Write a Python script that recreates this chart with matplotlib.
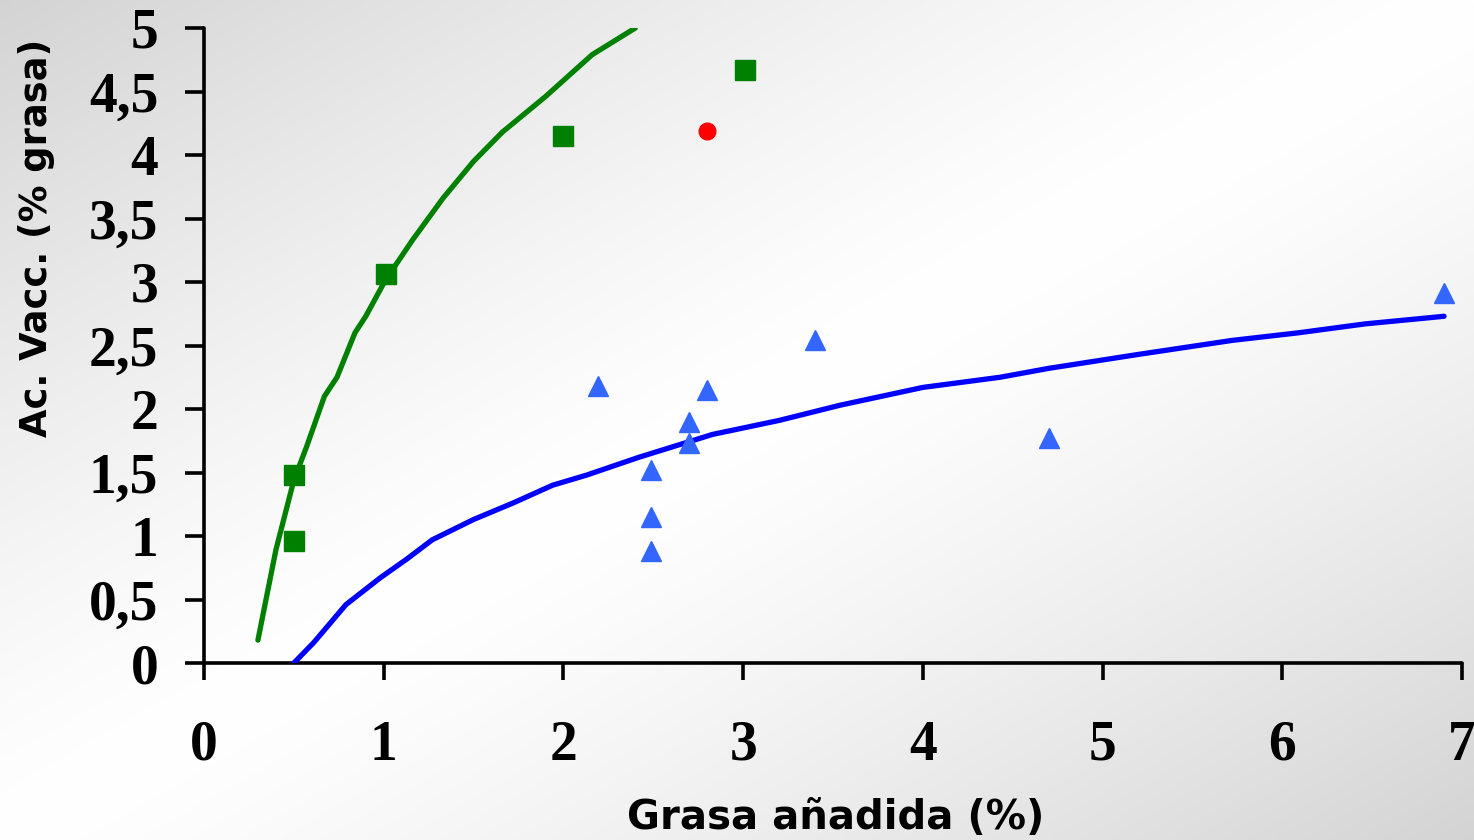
import numpy as np
import matplotlib
matplotlib.use("Agg")
import matplotlib.pyplot as plt

# ---- data ----
sq_x = [0.50, 0.50, 1.01, 2.00, 3.01]
sq_y = [1.48, 0.96, 3.06, 4.15, 4.67]

red_x = [2.80]
red_y = [4.19]

tri_x = [2.19, 2.49, 2.49, 2.49, 2.70, 2.70, 2.80, 3.40, 4.70, 6.90]
tri_y = [2.18, 1.52, 1.15, 0.88, 1.90, 1.73, 2.15, 2.54, 1.77, 2.91]

green_x = [0.30, 0.40, 0.50, 0.57, 0.67, 0.74, 0.84, 0.90, 1.00, 1.06, 1.16,
           1.33, 1.50, 1.66, 1.90, 2.16, 2.40]
green_y = [0.18, 0.89, 1.44, 1.70, 2.10, 2.25, 2.60, 2.73, 2.99, 3.12, 3.33,
           3.66, 3.95, 4.18, 4.46, 4.79, 5.00]

blue_x = [0.50, 0.61, 0.79, 0.98, 1.13, 1.27, 1.50, 1.72, 1.94, 2.13, 2.42,
          2.83, 3.20, 3.54, 4.00, 4.43, 4.70, 5.20, 5.72, 6.09, 6.46, 6.90]
blue_y = [0.00, 0.16, 0.46, 0.67, 0.82, 0.97, 1.13, 1.26, 1.40, 1.48, 1.62,
          1.80, 1.91, 2.03, 2.17, 2.25, 2.32, 2.43, 2.54, 2.60, 2.67, 2.73]

x_ticks = [0, 1, 2, 3, 4, 5, 6, 7]
y_ticks = [0, 0.5, 1, 1.5, 2, 2.5, 3, 3.5, 4, 4.5, 5]
y_tick_labels = ["0", "0,5", "1", "1,5", "2", "2,5", "3", "3,5", "4", "4,5", "5"]
x_label = "Grasa añadida (%)"
y_label = "Ac. Vacc. (% grasa)"

# ---- figure ----
W, H = 1474, 840
fig = plt.figure(figsize=(W / 100, H / 100), dpi=100)

# diagonal gradient background
bg = fig.add_axes([0, 0, 1, 1], zorder=-10)
gx, gy = np.meshgrid(np.linspace(0, 1, 300), np.linspace(0, 1, 200))
t = (gx + gy) / 2.0
val = 1.0 - 0.17 * np.abs(2 * t - 1) ** 1.3
bg.imshow(np.dstack([val, val, val]), extent=[0, 1, 0, 1], aspect="auto",
          origin="upper", interpolation="bilinear")
bg.axis("off")

ax = fig.add_axes([204 / W, 1 - 663 / H, (1462 - 204) / W, (663 - 28) / H])
ax.patch.set_alpha(0)

ax.plot(green_x, green_y, color="#008000", lw=3.8, solid_capstyle="round", zorder=3)
ax.plot(blue_x, blue_y, color="#0000FF", lw=3.8, solid_capstyle="round", zorder=3)
ax.plot(sq_x, sq_y, ls="none", marker="s", ms=14.5, color="#008000", zorder=4)
ax.plot(red_x, red_y, ls="none", marker="o", ms=12, color="#FF0000", zorder=4)
ax.plot(tri_x, tri_y, ls="none", marker="^", ms=14, color="#3366FF", zorder=4)

ax.set_xlim(0, 7)
ax.set_ylim(0, 5)
for s in ["top", "right"]:
    ax.spines[s].set_visible(False)
for s in ["left", "bottom"]:
    ax.spines[s].set_linewidth(2.6)
    ax.spines[s].set_color("black")
    ax.spines[s].set_capstyle("round")

ax.set_xticks(x_ticks)
ax.set_xticklabels([str(v) for v in x_ticks])
ax.set_yticks(y_ticks)
ax.set_yticklabels(y_tick_labels)
ax.tick_params(axis="y", direction="out", length=14, width=2.6, pad=19)
ax.tick_params(axis="x", direction="out", length=12, width=2.6, pad=29)
for lab in ax.get_xticklabels() + ax.get_yticklabels():
    lab.set_fontfamily("Liberation Serif")
    lab.set_fontweight("bold")
    lab.set_fontsize(40)

fig.text(836 / W, 1 - 818 / H, x_label, ha="center", va="center",
         fontsize=29, fontweight="bold", family="DejaVu Sans")
fig.text(37 / W, 1 - 238 / H, y_label, ha="center", va="center", rotation=90,
         fontsize=26.5, fontweight="bold", family="DejaVu Sans")

fig.savefig("out.png", dpi=100)
